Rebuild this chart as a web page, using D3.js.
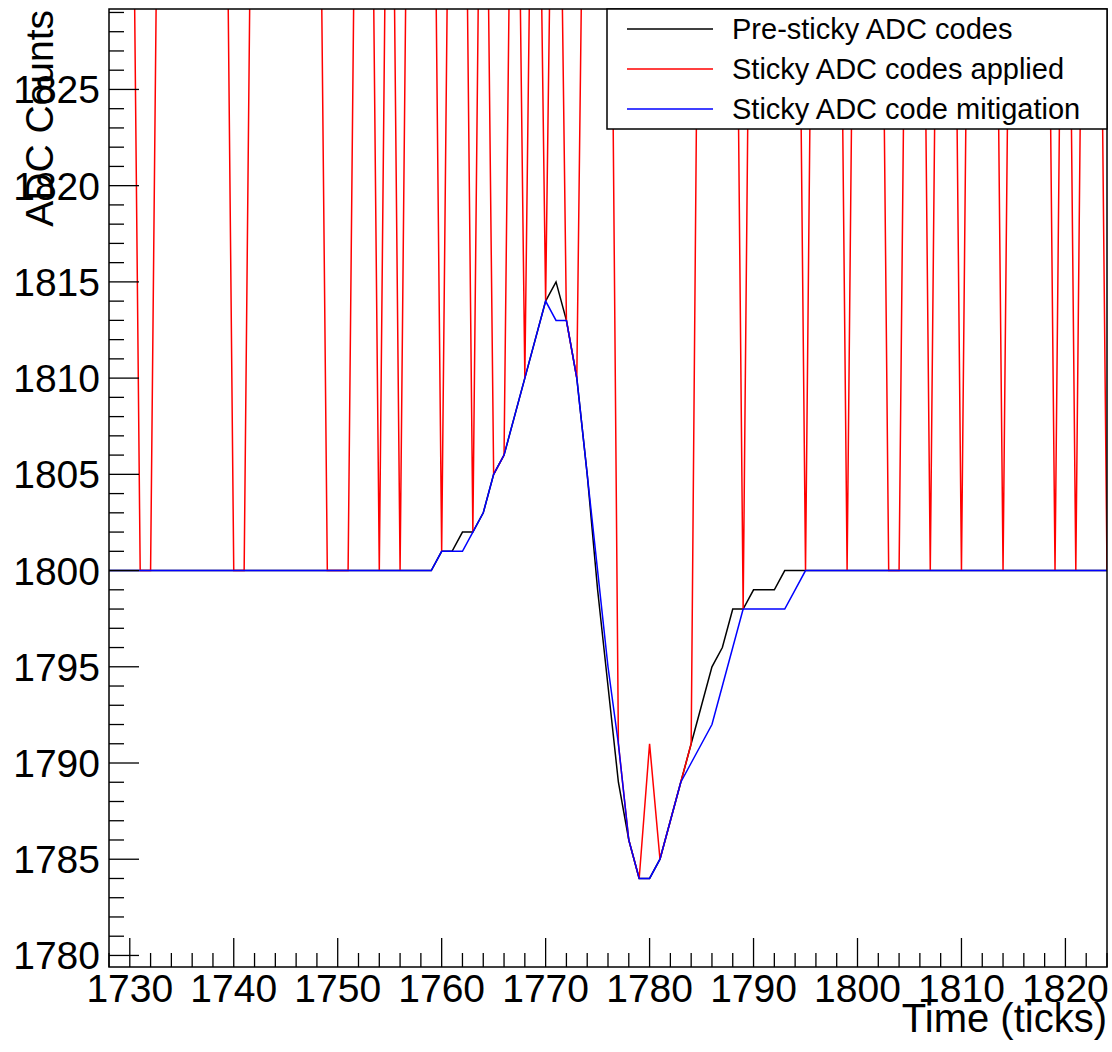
<!DOCTYPE html>
<html>
<head>
<meta charset="utf-8">
<script src="https://cdn.jsdelivr.net/npm/d3@7"></script>
<style>
  body { margin: 0; background: #fff; }
  svg { display: block; }
  text { font-family: "Liberation Sans", Arial, sans-serif; fill: #000; }
</style>
</head>
<body>
<div id="chart"></div>
<script>
// time ticks 1728 .. 1824
const ticks = [
  1728, 1729, 1730, 1731, 1732, 1733, 1734, 1735, 1736, 1737, 1738, 1739, 1740, 1741, 1742, 1743,
  1744, 1745, 1746, 1747, 1748, 1749, 1750, 1751, 1752, 1753, 1754, 1755, 1756, 1757, 1758, 1759,
  1760, 1761, 1762, 1763, 1764, 1765, 1766, 1767, 1768, 1769, 1770, 1771, 1772, 1773, 1774, 1775,
  1776, 1777, 1778, 1779, 1780, 1781, 1782, 1783, 1784, 1785, 1786, 1787, 1788, 1789, 1790, 1791,
  1792, 1793, 1794, 1795, 1796, 1797, 1798, 1799, 1800, 1801, 1802, 1803, 1804, 1805, 1806, 1807,
  1808, 1809, 1810, 1811, 1812, 1813, 1814, 1815, 1816, 1817, 1818, 1819, 1820, 1821, 1822, 1823,
  1824
];

const preSticky = [
  1800, 1800, 1800, 1800, 1800, 1800, 1800, 1800, 1800, 1800, 1800, 1800, 1800, 1800, 1800, 1800,
  1800, 1800, 1800, 1800, 1800, 1800, 1800, 1800, 1800, 1800, 1800, 1800, 1800, 1800, 1800, 1800,
  1801, 1801, 1802, 1802, 1803, 1805, 1806, 1808, 1810, 1812, 1814, 1815, 1813, 1810, 1805, 1799,
  1794, 1789, 1786, 1784, 1784, 1785, 1787, 1789, 1791, 1793, 1795, 1796, 1798, 1798, 1799, 1799,
  1799, 1800, 1800, 1800, 1800, 1800, 1800, 1800, 1800, 1800, 1800, 1800, 1800, 1800, 1800, 1800,
  1800, 1800, 1800, 1800, 1800, 1800, 1800, 1800, 1800, 1800, 1800, 1800, 1800, 1800, 1800, 1800,
  1800
];

const stickyApplied = [
  1855, 1855, 1855, 1800, 1800, 1855, 1855, 1855, 1855, 1855, 1855, 1855, 1800, 1800, 1855, 1855,
  1855, 1855, 1855, 1855, 1855, 1800, 1800, 1800, 1855, 1855, 1800, 1855, 1800, 1855, 1855, 1855,
  1801, 1855, 1855, 1802, 1855, 1805, 1806, 1855, 1810, 1855, 1814, 1855, 1813, 1810, 1855, 1855,
  1855, 1791, 1786, 1784, 1791, 1785, 1787, 1789, 1791, 1855, 1855, 1855, 1855, 1798, 1855, 1855,
  1855, 1855, 1855, 1800, 1855, 1855, 1855, 1800, 1855, 1855, 1855, 1800, 1800, 1855, 1855, 1800,
  1855, 1855, 1800, 1855, 1855, 1855, 1800, 1855, 1855, 1855, 1855, 1800, 1855, 1800, 1855, 1855,
  1800
];

const mitigated = [
  1800, 1800, 1800, 1800, 1800, 1800, 1800, 1800, 1800, 1800, 1800, 1800, 1800, 1800, 1800, 1800,
  1800, 1800, 1800, 1800, 1800, 1800, 1800, 1800, 1800, 1800, 1800, 1800, 1800, 1800, 1800, 1800,
  1801, 1801, 1801, 1802, 1803, 1805, 1806, 1808, 1810, 1812, 1814, 1813, 1813, 1810, 1805, 1800,
  1795, 1791, 1786, 1784, 1784, 1785, 1787, 1789, 1790, 1791, 1792, 1794, 1796, 1798, 1798, 1798,
  1798, 1798, 1799, 1800, 1800, 1800, 1800, 1800, 1800, 1800, 1800, 1800, 1800, 1800, 1800, 1800,
  1800, 1800, 1800, 1800, 1800, 1800, 1800, 1800, 1800, 1800, 1800, 1800, 1800, 1800, 1800, 1800,
  1800
];

const seriesNames = ["Pre-sticky ADC codes", "Sticky ADC codes applied", "Sticky ADC code mitigation"];
const seriesColors = ["#000000", "#ff0000", "#0000ff"];
const xTickLabels = [1730, 1740, 1750, 1760, 1770, 1780, 1790, 1800, 1810, 1820];
const yTickLabels = [1780, 1785, 1790, 1795, 1800, 1805, 1810, 1815, 1820, 1825];

const W = 1112, H = 1052;
const margin = {left: 109, right: 5, top: 9, bottom: 85};
const width = W - margin.left - margin.right;
const height = H - margin.top - margin.bottom;

const svg = d3.select("#chart").append("svg")
    .attr("width", W)
    .attr("height", H);

const g = svg.append("g")
    .attr("transform", `translate(${margin.left},${margin.top})`);

const xScale = d3.scaleLinear().domain([1728, 1824]).range([0, width]);
const yScale = d3.scaleLinear().domain([1779.4, 1829.18]).range([height, 0]);

g.append("clipPath").attr("id", "clip")
    .append("rect").attr("width", width).attr("height", height);

// data lines: black, red, then blue on top
const allSeries = [preSticky, stickyApplied, mitigated];
const line = d3.line()
    .x(d => xScale(d[0]))
    .y(d => yScale(d[1]));

g.append("g").attr("clip-path", "url(#clip)")
    .selectAll(".series")
    .data(allSeries)
    .enter().append("path")
    .attr("class", "series")
    .attr("d", s => line(ticks.map((t, i) => [t, s[i]])))
    .attr("fill", "none")
    .attr("stroke", (s, i) => seriesColors[i])
    .attr("stroke-width", 1.5)
    .attr("stroke-linejoin", "miter");

// frame
g.append("rect")
    .attr("width", width)
    .attr("height", height)
    .attr("fill", "none")
    .attr("stroke", "#000")
    .attr("stroke-width", 1.5);

// x axis, ROOT style ticks pointing inside
const xMinor = d3.range(1728, 1825, 2).filter(v => v % 10 !== 0);
g.selectAll(".xMinor")
    .data(xMinor)
    .enter().append("line")
    .attr("x1", d => xScale(d)).attr("x2", d => xScale(d))
    .attr("y1", height).attr("y2", height - 14)
    .attr("stroke", "#000").attr("stroke-width", 1.3);
g.selectAll(".xMajor")
    .data(xTickLabels)
    .enter().append("line")
    .attr("x1", d => xScale(d)).attr("x2", d => xScale(d))
    .attr("y1", height).attr("y2", height - 29)
    .attr("stroke", "#000").attr("stroke-width", 1.3);
g.selectAll(".xLabel")
    .data(xTickLabels)
    .enter().append("text")
    .attr("x", d => xScale(d))
    .attr("y", height + 35)
    .attr("text-anchor", "middle")
    .attr("font-size", "39px")
    .text(d => d);

// y axis
const yMinor = d3.range(1780, 1830, 1).filter(v => v % 5 !== 0);
g.selectAll(".yMinor")
    .data(yMinor)
    .enter().append("line")
    .attr("x1", 0).attr("x2", 15)
    .attr("y1", d => yScale(d)).attr("y2", d => yScale(d))
    .attr("stroke", "#000").attr("stroke-width", 1.3);
g.selectAll(".yMajor")
    .data(yTickLabels)
    .enter().append("line")
    .attr("x1", 0).attr("x2", 30)
    .attr("y1", d => yScale(d)).attr("y2", d => yScale(d))
    .attr("stroke", "#000").attr("stroke-width", 1.3);
g.selectAll(".yLabel")
    .data(yTickLabels)
    .enter().append("text")
    .attr("x", -9)
    .attr("y", d => yScale(d) + 14)
    .attr("text-anchor", "end")
    .attr("font-size", "39px")
    .text(d => d);

// axis titles
svg.append("text")
    .attr("x", W - 5)
    .attr("y", 1032)
    .attr("text-anchor", "end")
    .attr("font-size", "40px")
    .text("Time (ticks)");
svg.append("text")
    .attr("transform", "translate(53,10) rotate(-90)")
    .attr("text-anchor", "end")
    .attr("font-size", "39px")
    .text("ADC Counts");

// legend
const legend = svg.append("g");
legend.append("rect")
    .attr("x", 607).attr("y", 9)
    .attr("width", 500).attr("height", 120)
    .attr("fill", "#fff")
    .attr("stroke", "#000")
    .attr("stroke-width", 1.5);
const entries = legend.selectAll(".entry")
    .data(seriesNames)
    .enter().append("g")
    .attr("transform", (d, i) => `translate(0,${29 + i * 40})`);
entries.append("line")
    .attr("x1", 627).attr("x2", 713)
    .attr("stroke", (d, i) => seriesColors[i])
    .attr("stroke-width", 1.5);
entries.append("text")
    .attr("x", 732)
    .attr("y", 10)
    .attr("font-size", "29px")
    .text(d => d);
</script>
</body>
</html>
